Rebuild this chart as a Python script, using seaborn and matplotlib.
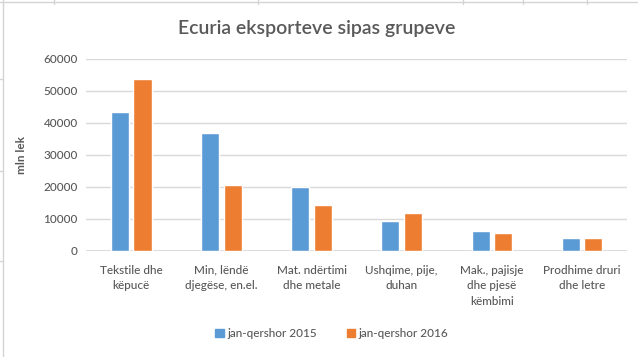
import pandas as pd
import seaborn as sns
import matplotlib.pyplot as plt
from matplotlib.lines import Line2D

# values (mln lek)
categories = ["Tekstile dhe\nkëpucë", "Min, lëndë\ndjegëse, en.el.", "Mat. ndërtimi\ndhe metale",
              "Ushqime, pije,\nduhan", "Mak., pajisje\ndhe pjesë\nkëmbimi", "Prodhime druri\ndhe letre"]
series = ["jan-qershor 2015", "jan-qershor 2016"]
vals_2015 = [43500, 37000, 20000, 9300, 6200, 4000]
vals_2016 = [53800, 20500, 14300, 12000, 5600, 4000]
yticks = [0, 10000, 20000, 30000, 40000, 50000, 60000]

df = pd.DataFrame({
    "grupi": categories * 2,
    "periudha": [series[0]] * len(categories) + [series[1]] * len(categories),
    "vlera": vals_2015 + vals_2016,
})

sns.set_style("white")
plt.rcParams['font.family'] = ['Lato', 'DejaVu Sans']
txt = "#595959"

fig = plt.figure(figsize=(6.38, 3.57), dpi=100)
ax = fig.add_axes([0.135, 0.297, 0.848, 0.538])

sns.barplot(data=df, x="grupi", y="vlera", hue="periudha", palette=["#5B9BD5", "#ED7D31"],
            width=0.5, gap=0.2, ax=ax, legend=False, saturation=1)

ax.set_ylim(0, 60000)
ax.set_yticks(yticks)
ax.set_yticklabels([str(v) for v in yticks], color=txt, fontsize=8.5, fontweight="medium")
ax.set_xticks(range(len(categories)))
ax.set_xticklabels(categories, color=txt, fontsize=8.5, fontweight="medium", linespacing=1.5, va="top")
ax.tick_params(length=0, pad=10)
ax.tick_params(axis="y", pad=6)
ax.set_xlim(-0.5, len(categories) - 0.5)
ax.yaxis.grid(True, color="#d9d9d9", linewidth=1)
ax.set_axisbelow(True)
for s in ax.spines.values():
    s.set_visible(False)
ax.axhline(0, color="#d9d9d9", linewidth=2, zorder=0)
ax.set_xlabel("")
ax.set_ylabel("mln lek", color=txt, fontsize=8.5, fontweight="bold", labelpad=12)

fig.text(0.497, 0.92, "Ecuria eksporteve sipas grupeve", ha="center", va="center",
         fontsize=14, fontweight="semibold", color=txt)

handles = [plt.Rectangle((0, 0), 1, 1, color=c) for c in ["#5B9BD5", "#ED7D31"]]
fig.legend(handles, series, loc="center", bbox_to_anchor=(0.52, 0.065), ncol=2, frameon=False,
           prop={"size": 8.5, "weight": "medium"}, labelcolor=txt, handlelength=0.7, handleheight=0.7,
           handletextpad=0.3, columnspacing=2.5)

# spreadsheet cell lines around the chart
grid = "#d4d4d4"
fig.add_artist(Line2D([0, 1], [0.994, 0.994], color=grid, lw=1, transform=fig.transFigure))
fig.add_artist(Line2D([0.005, 0.005], [0, 1], color=grid, lw=1, transform=fig.transFigure))
for x in [0.085, 0.405, 0.725, 0.82, 0.92]:
    fig.add_artist(Line2D([x, x], [0.99, 1], color=grid, lw=1, transform=fig.transFigure))
for y in [0.27, 0.52, 0.78]:
    fig.add_artist(Line2D([0, 0.005], [y, y], color=grid, lw=1, transform=fig.transFigure))

fig.savefig("out.png", dpi=100)
